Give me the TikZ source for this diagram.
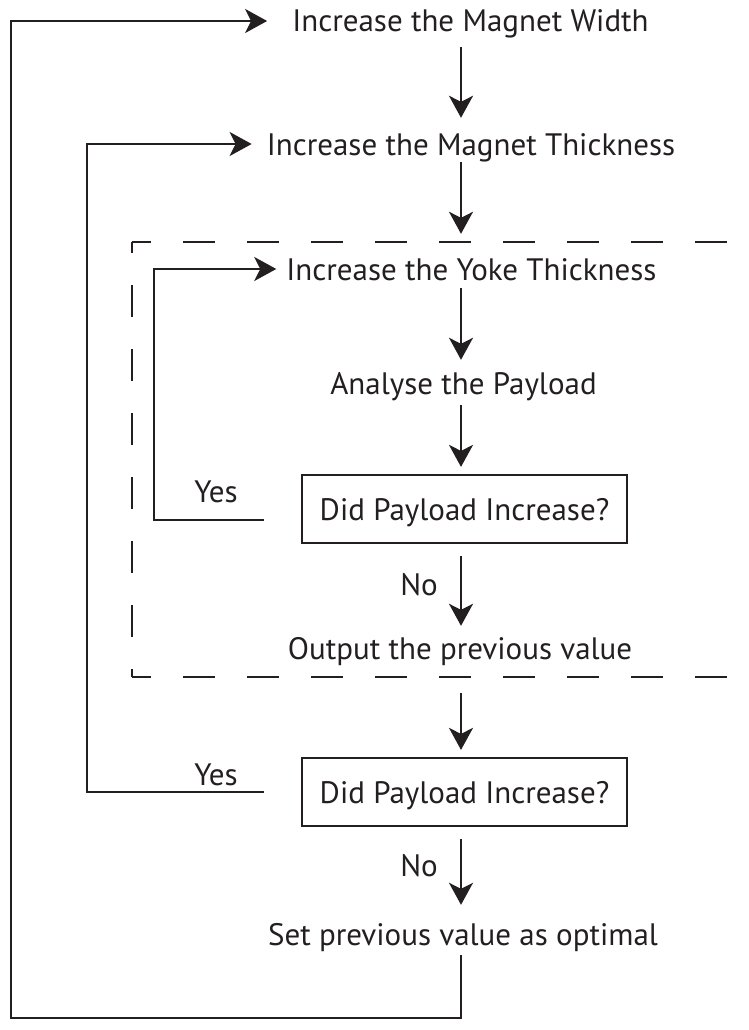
\documentclass[tikz,border=0pt]{standalone}
\usepackage{fontspec}
\setmainfont{PT Sans}
\usetikzlibrary{arrows.meta,calc}
\definecolor{ink}{RGB}{35,31,32}
\newcommand\figfont{\fontsize{31}{37}\selectfont}
\tikzset{
  txt/.style={font=\figfont, text=ink, inner sep=0pt, text height=28pt, text depth=6pt, anchor=base},
  lbl/.style={font=\figfont, text=ink, inner sep=0pt, anchor=base},
  dbox/.style={draw=ink, line width=2.2pt, minimum width=325pt, minimum height=68pt, inner sep=0pt,
               font=\figfont, text=ink, text height=22pt, text depth=0pt},
  arr/.style={draw=ink, line width=2.1pt, -{Stealth[length=22pt,width=24pt,inset=6pt]}},
  ln/.style={draw=ink, line width=2.1pt},
  frame/.style={draw=ink, line width=2.1pt, dash pattern=on 32pt off 32pt},
}
\begin{document}
\begin{tikzpicture}[x=1pt,y=-1pt]
\useasboundingbox (0,0) rectangle (748,1030);
% column of the vertical arrows and loop rails
\coordinate (ax) at (461,0);
\coordinate (l1) at (11,0);
\coordinate (l2) at (87,0);
\coordinate (l3) at (154,0);
\coordinate (bot) at (0,1018);
% texts
\node[txt] (t1) at (470.5,32) {Increase the Magnet Width};
\node[txt] (t2) at (471,155) {Increase the Magnet Thickness};
\node[txt] (t3) at (471.5,280) {Increase the Yoke Thickness};
\node[txt] (t4) at (463.5,394) {Analyse the Payload};
\node[dbox] (b1) at (464.5,509) {Did Payload Increase?};
\node[txt] (t5) at (460,659) {Output the previous value};
\node[dbox] (b2) at (464.5,792) {Did Payload Increase?};
\node[txt] (t6) at (463,945) {Set previous value as optimal};
% labels
\node[lbl] (y1) at (216,502) {Yes};
\node[lbl] (n1) at (419,595) {No};
\node[lbl] (y2) at (216,785) {Yes};
\node[lbl] (n2) at (419,876) {No};
% dashed frame
\draw[frame, dash phase=13pt] (132,242) -- (748,242);
\draw[frame, dash phase=21pt] (132,242) -- (132,677);
\draw[frame, dash phase=13pt] (132,677) -- (748,677);
% main flow
\draw[arr, shorten <=9pt, shorten >=9pt] (t1.south -| ax) -- (t2.north -| ax);
\draw[arr, shorten <=1pt, shorten >=18pt] (t2.south -| ax) -- (t3.north -| ax);
\draw[arr, shorten <=2pt, shorten >=6pt] (t3.south -| ax) -- (t4.north -| ax);
\draw[arr, shorten <=5pt, shorten >=7pt] (t4.south -| ax) -- (b1.north -| ax);
\draw[arr, shorten <=12pt, shorten >=5pt] (b1.south -| ax) -- (t5.north -| ax);
\draw[arr, shorten <=28pt, shorten >=7pt] (t5.south -| ax) -- (b2.north -| ax);
\draw[arr, shorten <=12pt, shorten >=12pt] (b2.south -| ax) -- (t6.north -| ax);
% loops
\draw[arr, shorten <=4pt, shorten >=25pt] (t6.south -| ax) -- (ax |- bot) -- (l1 |- bot) |- (t1.west);
\draw[arr, shorten <=37pt, shorten >=15pt] (b2.west) -| (l2 |- t2.west) -- (t2.west);
\draw[arr, shorten <=37pt, shorten >=10pt] ([yshift=-11pt]b1.west) -| (l3 |- t3.west) -- (t3.west);
\end{tikzpicture}
\end{document}
